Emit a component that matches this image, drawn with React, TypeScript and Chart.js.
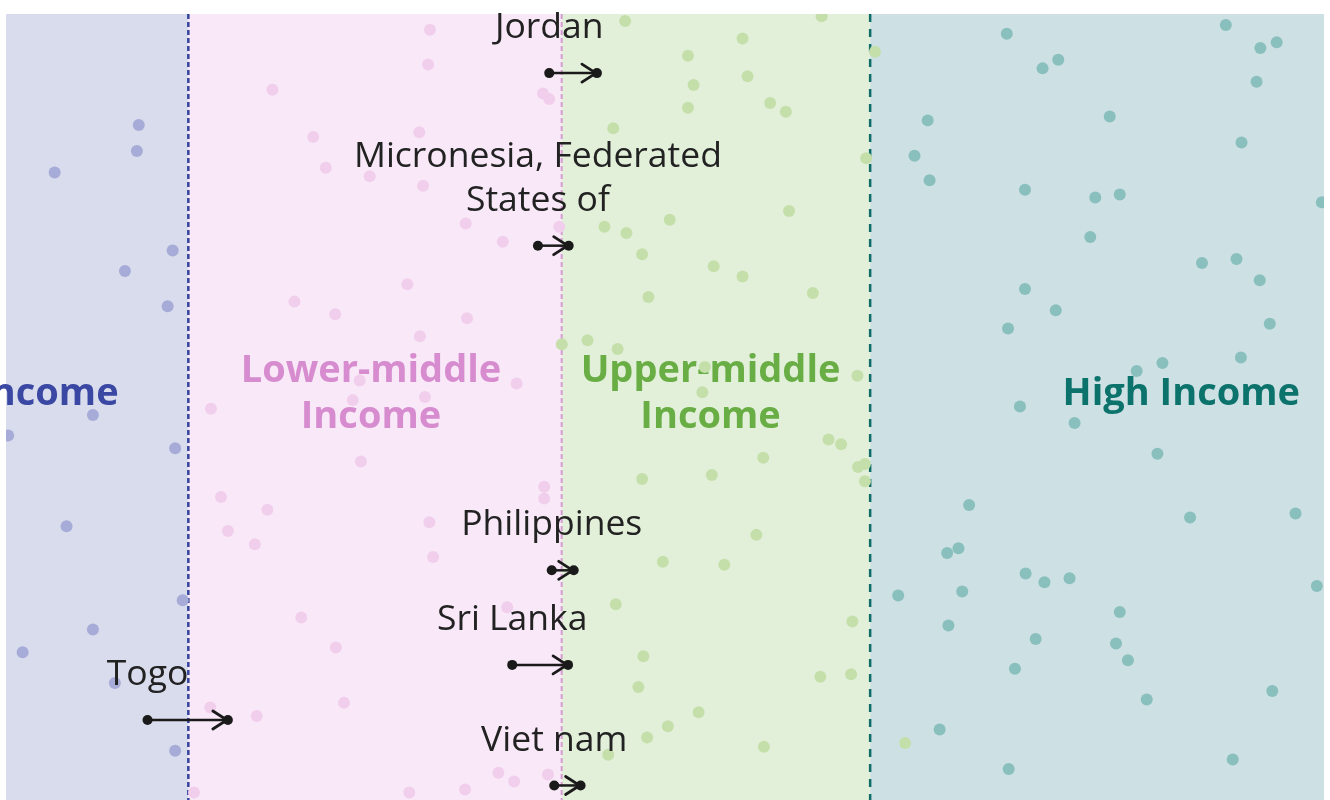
import React, { useEffect, useRef } from "react";
import { Chart, registerables } from "chart.js";

Chart.register(...registerables);

// World Bank income thresholds, GNI per capita (US$)
const thresholds = [1135, 4465, 13845];
// visible window on the log10(GNI per capita) axis
const xMinLog = 2.7645;
const xMaxLog = 4.8644;

const bandNames = [["Low Income"], ["Lower-middle", "Income"], ["Upper-middle", "Income"], ["High Income"]];
const bandLabelX = [2.7625, 3.346, 3.887, 4.637];
const bandLabelY = 48.3;

// log10 GNI per capita and vertical jitter of each country dot
const lowX = [2.976, 2.973, 2.842, 3.03, 2.954, 3.022, 2.903, 2.768, 3.034, 2.861, 3.046, 2.903, 2.791, 2.938, 3.034];
const lowY = [14.1, 17.4, 20.1, 30.0, 32.6, 37.1, 50.9, 53.5, 55.1, 65.0, 74.4, 78.1, 81.0, 84.9, 93.5];

const lowerX = [3.44, 3.437, 3.189, 3.62, 3.63, 3.254, 3.423, 3.274, 3.344, 3.429, 3.497, 3.556, 3.646, 3.404, 3.224, 3.289, 3.499, 3.424, 3.578, 3.328, 3.317, 3.432, 3.091, 3.33, 3.107, 3.181, 3.118, 3.161, 3.439, 3.445, 3.622, 3.622, 3.235, 3.29, 3.563, 3.303, 3.164, 3.09, 3.549, 3.574, 3.628, 3.496, 3.064, 3.407];
const lowerY = [2.0, 6.4, 9.6, 10.1, 10.8, 15.6, 15.0, 19.5, 20.6, 21.8, 26.6, 28.9, 27.0, 34.3, 36.5, 38.1, 38.6, 40.9, 46.9, 46.5, 49.0, 48.6, 50.1, 56.8, 61.3, 62.9, 65.6, 67.3, 64.5, 68.9, 60.0, 61.5, 76.6, 80.4, 75.3, 87.4, 89.1, 88.0, 96.3, 97.4, 96.5, 98.4, 98.8, 98.8];

const upperX = [3.751, 4.064, 3.938, 3.851, 3.86, 3.946, 3.851, 3.982, 4.007, 3.732, 4.135, 4.149, 4.012, 3.822, 3.718, 3.753, 3.778, 3.892, 3.938, 3.788, 4.05, 3.691, 3.739, 3.65, 3.878, 3.874, 4.121, 4.075, 4.095, 4.122, 4.133, 4.133, 3.971, 3.889, 3.778, 3.96, 3.811, 3.909, 3.736, 4.113, 3.78, 3.772, 4.062, 4.111, 3.868, 3.819, 3.786, 3.724, 3.972, 4.197];
const upperY = [0.9, 0.3, 3.1, 5.3, 9.0, 7.9, 11.9, 11.3, 12.4, 14.5, 18.3, 4.8, 25.0, 26.1, 27.0, 27.8, 30.5, 32.0, 33.3, 35.9, 35.4, 41.4, 42.5, 41.9, 44.8, 48.0, 45.9, 54.0, 54.6, 57.5, 57.1, 59.3, 56.3, 58.5, 59.0, 66.1, 69.5, 69.9, 74.9, 77.1, 81.5, 85.4, 84.1, 83.8, 88.6, 90.4, 91.8, 94.0, 93.0, 92.5];

const highX = [4.359, 4.708, 4.763, 4.789, 4.416, 4.441, 4.757, 4.233, 4.523, 4.733, 4.212, 4.236, 4.388, 4.5, 4.539, 4.861, 4.492, 4.67, 4.725, 4.762, 4.388, 4.437, 4.361, 4.778, 4.607, 4.566, 4.732, 4.38, 4.467, 4.599, 4.299, 4.651, 4.819, 4.264, 4.282, 4.389, 4.419, 4.459, 4.186, 4.288, 4.539, 4.853, 4.266, 4.405, 4.533, 4.552, 4.372, 4.782, 4.582, 4.252, 4.719, 4.362];
const highY = [2.5, 1.4, 4.3, 3.6, 6.9, 5.8, 8.6, 13.5, 13.0, 16.3, 18.0, 21.1, 22.3, 23.3, 22.9, 23.9, 28.3, 31.6, 31.1, 33.8, 34.9, 37.6, 39.9, 39.3, 44.3, 45.3, 43.6, 49.8, 51.9, 55.8, 62.3, 63.9, 63.4, 68.4, 67.8, 71.0, 72.1, 71.6, 73.8, 73.3, 75.9, 72.6, 77.6, 79.3, 79.9, 82.0, 83.1, 85.9, 87.0, 90.8, 94.6, 95.8];

// countries that moved up a category (log10 GNI before -> after)
const movers = ["Jordan", "Micronesia, Federated\nStates of", "Philippines", "Sri Lanka", "Viet nam", "Togo"];
const moverFrom = [3.63, 3.612, 3.634, 3.571, 3.638, 2.99];
const moverTo = [3.706, 3.661, 3.669, 3.66, 3.68, 3.118];
const moverY = [7.5, 29.4, 70.6, 82.6, 97.9, 89.6];

const bandFill = ["#d8dcec", "#f8e8f8", "#e2f0da", "#cde0e4"];
const bandText = ["#3a47a3", "#d68cce", "#69ad45", "#0c726c"];
const dotColors = ["#a6acd7", "#f1cfec", "#c5dfab", "#89bfbc"];
const lineColors = ["#34449c", "#d49cd2", "#0f6c66"];
const lineDash = [[5, 3], [5, 3], [8, 7]];
const lineWidths = [2.5, 2, 2.5];

const toPoints = (xs: number[], ys: number[]) => xs.map((x, i) => ({ x, y: ys[i] }));

const bandsPlugin = {
  id: "incomeBands",
  beforeDatasetsDraw(chart: any) {
    const { ctx, chartArea: a, scales } = chart;
    const x = scales.x;
    const y = scales.y;
    const edges = [a.left, ...thresholds.map((t) => x.getPixelForValue(Math.log10(t))), a.right];
    ctx.save();
    for (let i = 0; i < 4; i++) {
      ctx.fillStyle = bandFill[i];
      ctx.fillRect(edges[i], a.top, edges[i + 1] - edges[i], a.bottom - a.top);
    }
    for (let i = 0; i < 3; i++) {
      ctx.beginPath();
      ctx.setLineDash(lineDash[i]);
      ctx.strokeStyle = lineColors[i];
      ctx.lineWidth = lineWidths[i];
      ctx.moveTo(edges[i + 1], a.top);
      ctx.lineTo(edges[i + 1], a.bottom);
      ctx.stroke();
    }
    ctx.setLineDash([]);
    ctx.font = 'bold 38px "Open Sans"';
    ctx.textAlign = "center";
    ctx.textBaseline = "middle";
    const cy = y.getPixelForValue(bandLabelY);
    bandNames.forEach((lines, i) => {
      ctx.fillStyle = bandText[i];
      const cx = x.getPixelForValue(bandLabelX[i]);
      lines.forEach((l, j) => {
        ctx.fillText(l, cx, cy + (j - (lines.length - 1) / 2) * 46);
      });
    });
    ctx.restore();
  },
};

const arrowPlugin = {
  id: "moverArrows",
  afterDatasetsDraw(chart: any) {
    const { ctx, scales } = chart;
    const x = scales.x;
    const y = scales.y;
    ctx.save();
    movers.forEach((name, i) => {
      const x0 = x.getPixelForValue(moverFrom[i]);
      const x1 = x.getPixelForValue(moverTo[i]);
      const py = y.getPixelForValue(moverY[i]);
      ctx.strokeStyle = "#1a1a1a";
      ctx.lineWidth = 2.8;
      ctx.lineCap = "round";
      ctx.lineJoin = "round";
      ctx.beginPath();
      ctx.moveTo(x1 - 15, py - 9);
      ctx.lineTo(x1 - 1, py);
      ctx.lineTo(x1 - 15, py + 9);
      ctx.stroke();
      ctx.fillStyle = "#222222";
      ctx.font = '35.5px "Open Sans"';
      ctx.textAlign = "center";
      ctx.textBaseline = "middle";
      const lines = name.split("\n");
      lines.forEach((l, j) => {
        ctx.fillText(l, x0, py - 45 - (lines.length - 1 - j) * 44);
      });
    });
    ctx.restore();
  },
};

export default function App() {
  const ref = useRef<HTMLCanvasElement>(null);
  useEffect(() => {
    if (!ref.current) return;
    const dotSet = (xs: number[], ys: number[], color: string) => ({
      type: "scatter" as const,
      data: toPoints(xs, ys),
      backgroundColor: color,
      borderWidth: 0,
      pointRadius: 6,
      order: 2,
    });
    const arrowSets = movers.map((m, i) => ({
      type: "scatter" as const,
      label: m,
      data: [
        { x: moverFrom[i], y: moverY[i] },
        { x: moverTo[i], y: moverY[i] },
      ],
      showLine: true,
      borderColor: "#1a1a1a",
      borderWidth: 2.5,
      backgroundColor: "#1a1a1a",
      pointBackgroundColor: "#1a1a1a",
      pointBorderWidth: 0,
      pointRadius: 5,
      order: 1,
    }));
    const chart = new Chart(ref.current, {
      type: "scatter",
      data: {
        datasets: [
          dotSet(lowX, lowY, dotColors[0]),
          dotSet(lowerX, lowerY, dotColors[1]),
          dotSet(upperX, upperY, dotColors[2]),
          dotSet(highX, highY, dotColors[3]),
          ...arrowSets,
        ] as any,
      },
      options: {
        responsive: false,
        maintainAspectRatio: false,
        animation: false,
        events: [],
        layout: { padding: 0 },
        plugins: { legend: { display: false }, tooltip: { enabled: false } },
        scales: {
          x: { type: "linear", min: xMinLog, max: xMaxLog, display: false },
          y: { type: "linear", min: 0, max: 100, reverse: true, display: false },
        },
      },
      plugins: [bandsPlugin, arrowPlugin],
    });
    return () => chart.destroy();
  }, []);
  return (
    <div style={{ position: "fixed", left: 0, top: 8, width: 1330, height: 800 }}>
      <canvas ref={ref} width={1330} height={800} style={{ display: "block" }} />
    </div>
  );
}
